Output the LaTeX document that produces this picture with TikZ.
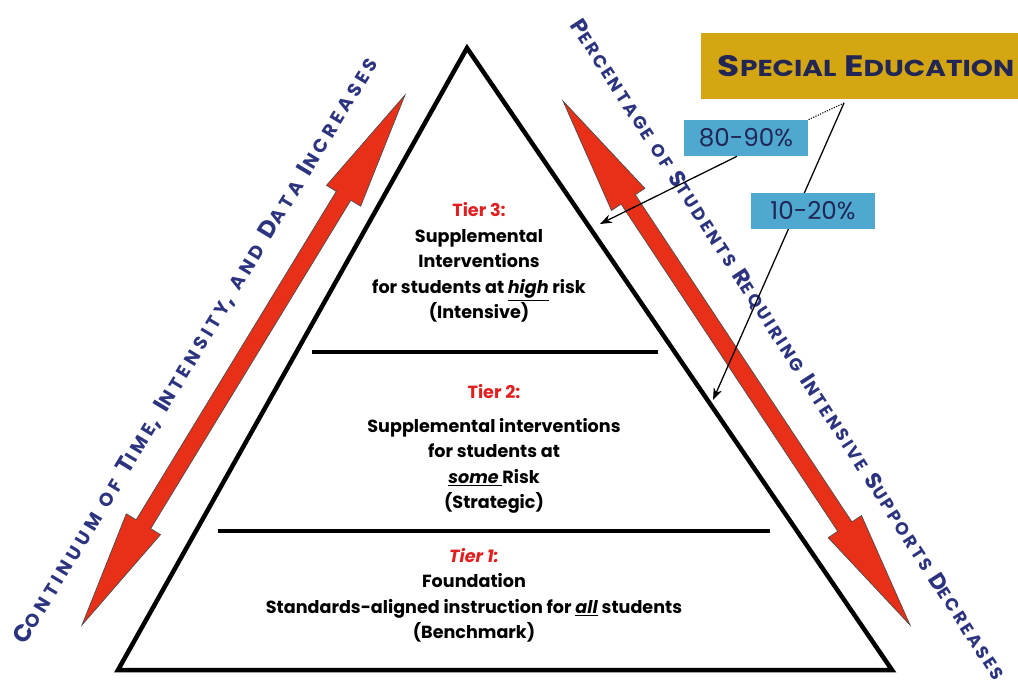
\documentclass[tikz,border=0pt]{standalone}
\usepackage{fontspec}
\setmainfont{Poppins}
\usetikzlibrary{calc,arrows.meta}

\definecolor{tierred}{RGB}{226,30,30}
\definecolor{arrowred}{RGB}{232,48,24}
\definecolor{labelblue}{RGB}{44,52,128}
\definecolor{gold}{RGB}{212,166,18}
\definecolor{boxblue}{RGB}{78,168,208}
\definecolor{navy}{RGB}{34,38,84}

\newcommand\smallcap[1]{\scalebox{0.78}{#1}}

\tikzset{
	pyramid/.style={line width=3.2pt, line join=miter},
	tierline/.style={line width=2.6pt},
	fatarrow/.style={fill=arrowred, draw=black!70, line width=0.5pt},
	tiertitle/.style={text=tierred, inner sep=0pt, font=\bfseries\fontsize{12.5}{14}\selectfont},
	tiertext/.style={align=center, inner sep=0pt, font=\bfseries\fontsize{12.5}{18.1}\selectfont},
	slanted/.style={text=labelblue, inner sep=0pt},
	pctbox/.style={fill=boxblue, text=navy, minimum width=3.1cm, minimum height=0.9cm,
		font=\fontsize{17.5}{19}\selectfont},
	pointer/.style={line width=0.9pt, -{Stealth[length=3mm, width=2.2mm]}}
}

\begin{document}
\begin{tikzpicture}[x=0.025cm, y=-0.025cm]
		\clip (0,0) rectangle (1018,696);
		\def\headlen{2.95cm}
		\def\headw{0.5cm}
		\def\shaftw{0.2125cm}

		% pyramid and tier lines
		\coordinate (apex) at (467,48);
		\coordinate (baseL) at (118,670);
		\coordinate (baseR) at (892,670);
		\draw[pyramid] (apex) -- (baseL) -- (baseR) -- cycle;
		\foreach \y/\xa/\xb in {352/312/658, 531/218/770}
			\draw[tierline] (\xa,\y) -- (\xb,\y);

		% double arrows beside the sides
		\foreach \tipa/\tipb in {{82,625}/{405,95}, {563,101}/{910,625}}{
			\coordinate (ta) at (\tipa);
			\coordinate (tb) at (\tipb);
			\coordinate (ha) at ($(ta)!\headlen!(tb)$);
			\coordinate (hb) at ($(tb)!\headlen!(ta)$);
			\draw[fatarrow] (ta) -- ($(ha)!\headw!90:(tb)$) -- ($(ha)!\shaftw!90:(tb)$)
				-- ($(hb)!\shaftw!-90:(ta)$) -- ($(hb)!\headw!-90:(ta)$) -- (tb)
				-- ($(hb)!\headw!90:(ta)$) -- ($(hb)!\shaftw!90:(ta)$)
				-- ($(ha)!\shaftw!-90:(tb)$) -- ($(ha)!\headw!-90:(tb)$) -- cycle;
		}

		% slanted captions
		\node[slanted, rotate=58.8, font=\bfseries\fontsize{17}{20}\selectfont\addfontfeatures{LetterSpace=22}] (continuum) at (196,351)
			{C\smallcap{ONTINUUM} \smallcap{OF} T\smallcap{IME}, I\smallcap{NTENSITY}, \smallcap{AND} D\smallcap{ATA} I\smallcap{NCREASES}};
		\node[slanted, rotate=-57.1, font=\bfseries\fontsize{16}{20}\selectfont\addfontfeatures{LetterSpace=15}] (percentage) at (788,350)
			{P\smallcap{ERCENTAGE} \smallcap{OF} S\smallcap{TUDENTS} R\smallcap{EQUIRING} I\smallcap{NTENSIVE} S\smallcap{UPPORTS} D\smallcap{ECREASES}};

		% tiers
		\node[tiertitle] (tier3) at (479,210) {Tier 3:};
		\node[tiertext] (body3) at (479,276)
			{Supplemental\\Interventions\\for students at \underline{\textit{high}} risk\\(Intensive)};
		\node[tiertitle] (tier2) at (494,392) {Tier 2:};
		\node[tiertext] (body2) at (494,466)
			{Supplemental interventions\\for students at\\\underline{\textit{some}\ }Risk\\(Strategic)};
		\node[tiertitle, font=\bfseries\itshape\fontsize{12.5}{14}\selectfont] (tier1) at (474,556) {Tier 1:};
		\node[tiertext] (body1) at (474,608)
			{Foundation\\Standards-aligned instruction for \underline{\textit{all}} students\\(Benchmark)};

		% special education and percentages
		\node[fill=gold, text=navy, minimum width=8.25cm, minimum height=1.65cm,
			font=\bfseries\fontsize{21}{24}\selectfont] (spec) at (866,66)
			{\scalebox{1.22}[1]{S\smallcap{PECIAL} E\smallcap{DUCATION}}};
		\coordinate (fork) at (844,103);
		\coordinate (tip80) at (600,224);
		\coordinate (tip10) at (713,400);
		\draw[pointer] (fork) -- (tip10);
		\node[pctbox] (p80) at (746,138) {80-90\%};
		\node[pctbox] (p10) at (813,211) {10-20\%};
		\draw[line width=0.8pt, densely dotted] (fork) -- (p80.north east);
		\draw[pointer] ($(p80.south)+(-9,0)$) -- (tip80);

	\end{tikzpicture}
\end{document}
